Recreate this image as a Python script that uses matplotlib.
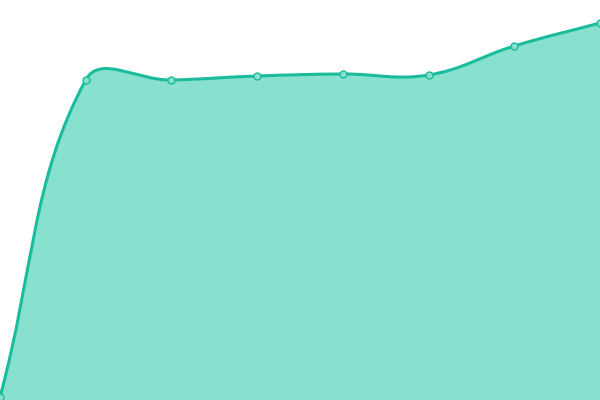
import numpy as np
import matplotlib
matplotlib.use('Agg')
import matplotlib.pyplot as plt
from matplotlib.path import Path
from matplotlib.patches import PathPatch

# values (pixel scale 0..400)
labels = ['1', '2', '3', '4', '5', '6', '7', '8']
values = [3, 320, 320, 324, 326, 325, 354, 377]

line_color = '#1ABC9C'
fill_color = '#88E0CF'

fig = plt.figure(figsize=(6, 4), dpi=100)
ax = fig.add_axes([0, 0, 1, 1])
ax.set_xlim(0, len(values) - 1)
ax.set_ylim(0, 400)
ax.axis('off')

# spline control points, computed in display space (like chart.js tension 0.4)
x = np.arange(len(values), dtype=float)
pts = ax.transData.transform(np.column_stack([x, values]))
t = 0.4
verts = [pts[0]]
codes = [Path.MOVETO]
ctrl = []
for i in range(len(pts)):
    prev = pts[i - 1] if i > 0 else pts[i]
    nxt = pts[i + 1] if i < len(pts) - 1 else pts[i]
    d01 = np.hypot(*(pts[i] - prev))
    d12 = np.hypot(*(nxt - pts[i]))
    tot = d01 + d12
    s01 = d01 / tot if tot else 0
    s12 = d12 / tot if tot else 0
    cp_prev = pts[i] - t * s01 * (nxt - prev)
    cp_next = pts[i] + t * s12 * (nxt - prev)
    ctrl.append((cp_prev, cp_next))
for i in range(1, len(pts)):
    verts += [ctrl[i - 1][1], ctrl[i][0], pts[i]]
    codes += [Path.CURVE4] * 3
inv = ax.transData.inverted()
data_verts = inv.transform(np.array(verts))
data_verts[:, 1] = np.clip(data_verts[:, 1], 0, 400)

curve = Path(data_verts, codes)
fill_verts = list(data_verts) + [(x[-1], 0), (x[0], 0), data_verts[0]]
fill_codes = codes + [Path.LINETO, Path.LINETO, Path.CLOSEPOLY]
ax.add_patch(PathPatch(Path(fill_verts, fill_codes), facecolor=fill_color, edgecolor='none'))
ax.add_patch(PathPatch(curve, facecolor='none', edgecolor=line_color, lw=2.2, capstyle='round'))
ax.plot(x, values, 'o', ms=5, mfc=fill_color, mec=line_color, mew=1, clip_on=False)

fig.savefig('out.png', dpi=100)
